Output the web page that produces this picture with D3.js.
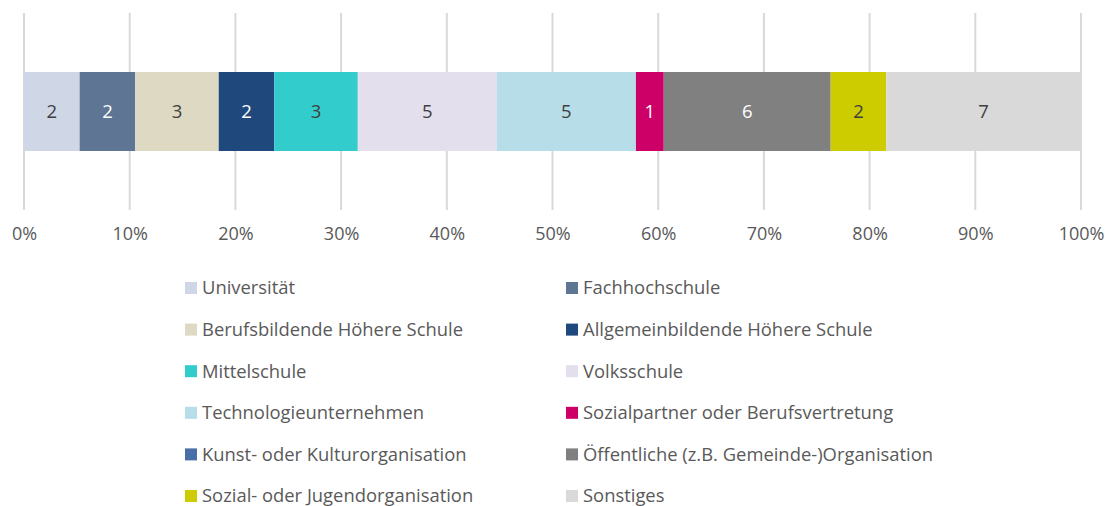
<!DOCTYPE html>
<html>
<head>
<meta charset="utf-8">
<script src="https://cdn.jsdelivr.net/npm/d3@7"></script>
<style>
  body { margin: 0; background: #fff; }
  svg text { font-family: "Open Sans", Lato, sans-serif; }
</style>
</head>
<body>
<script>
const categories = ["Universität", "Fachhochschule", "Berufsbildende Höhere Schule", "Allgemeinbildende Höhere Schule",
  "Mittelschule", "Volksschule", "Technologieunternehmen", "Sozialpartner oder Berufsvertretung",
  "Kunst- oder Kulturorganisation", "Öffentliche (z.B. Gemeinde-)Organisation", "Sozial- oder Jugendorganisation", "Sonstiges"];
const counts = [2, 2, 3, 2, 3, 5, 5, 1, 0, 6, 2, 7];
const colors = ["#cfd6e6", "#5e7594", "#ddd9c3", "#1f497d", "#33cccc", "#e4dfec", "#b7dde8", "#cc0066",
  "#4a6ea8", "#808080", "#cccc00", "#d9d9d9"];
const darkLabel = [false, true, false, true, false, false, false, true, true, true, false, false];
const tickValues = [0, 0.1, 0.2, 0.3, 0.4, 0.5, 0.6, 0.7, 0.8, 0.9, 1];

const w = 1105, h = 506;
const total = d3.sum(counts);

const svg = d3.select("body").append("svg")
  .attr("width", w)
  .attr("height", h);

const x = d3.scaleLinear().domain([0, 1]).range([24, 1081]);

// gridlines
svg.append("g")
  .selectAll("line")
  .data(tickValues)
  .join("line")
  .attr("x1", d => x(d)).attr("x2", d => x(d))
  .attr("y1", 13).attr("y2", 210)
  .attr("stroke", "#d9d9d9")
  .attr("stroke-width", 2);

// stacked segments
let acc = 0;
const segs = counts.map((c, i) => {
  const s = { i: i, v: c, x0: acc / total, x1: (acc + c) / total };
  acc += c;
  return s;
});

svg.append("g")
  .selectAll("rect")
  .data(segs)
  .join("rect")
  .attr("x", d => x(d.x0))
  .attr("width", d => x(d.x1) - x(d.x0))
  .attr("y", 72)
  .attr("height", 79)
  .attr("fill", d => colors[d.i]);

svg.append("g")
  .selectAll("text")
  .data(segs.filter(d => d.v > 0))
  .join("text")
  .attr("x", d => (x(d.x0) + x(d.x1)) / 2)
  .attr("y", 112)
  .attr("dy", "0.35em")
  .attr("text-anchor", "middle")
  .attr("font-size", 18.5)
  .attr("fill", d => darkLabel[d.i] ? "#ffffff" : "#404040")
  .text(d => d.v);

// axis
const xAxis = d3.axisBottom(x)
  .tickValues(tickValues)
  .tickFormat(d3.format(".0%"))
  .tickSize(0)
  .tickPadding(0);

const ax = svg.append("g")
  .attr("transform", "translate(0,227)")
  .call(xAxis);
ax.select(".domain").remove();
ax.selectAll("text")
  .attr("font-size", 18)
  .attr("fill", "#595959");

// legend
const legend = svg.append("g")
  .selectAll("g")
  .data(categories)
  .join("g")
  .attr("transform", (d, i) => "translate(" + (i % 2 === 0 ? 185 : 566) + "," + (288 + Math.floor(i / 2) * 41.6) + ")");

legend.append("rect")
  .attr("x", 0).attr("y", -6)
  .attr("width", 12).attr("height", 12)
  .attr("fill", (d, i) => colors[i]);

legend.append("text")
  .attr("x", 17)
  .attr("dy", "0.35em")
  .attr("font-size", 18.4)
  .attr("fill", "#595959")
  .text(d => d);
</script>
</body>
</html>
